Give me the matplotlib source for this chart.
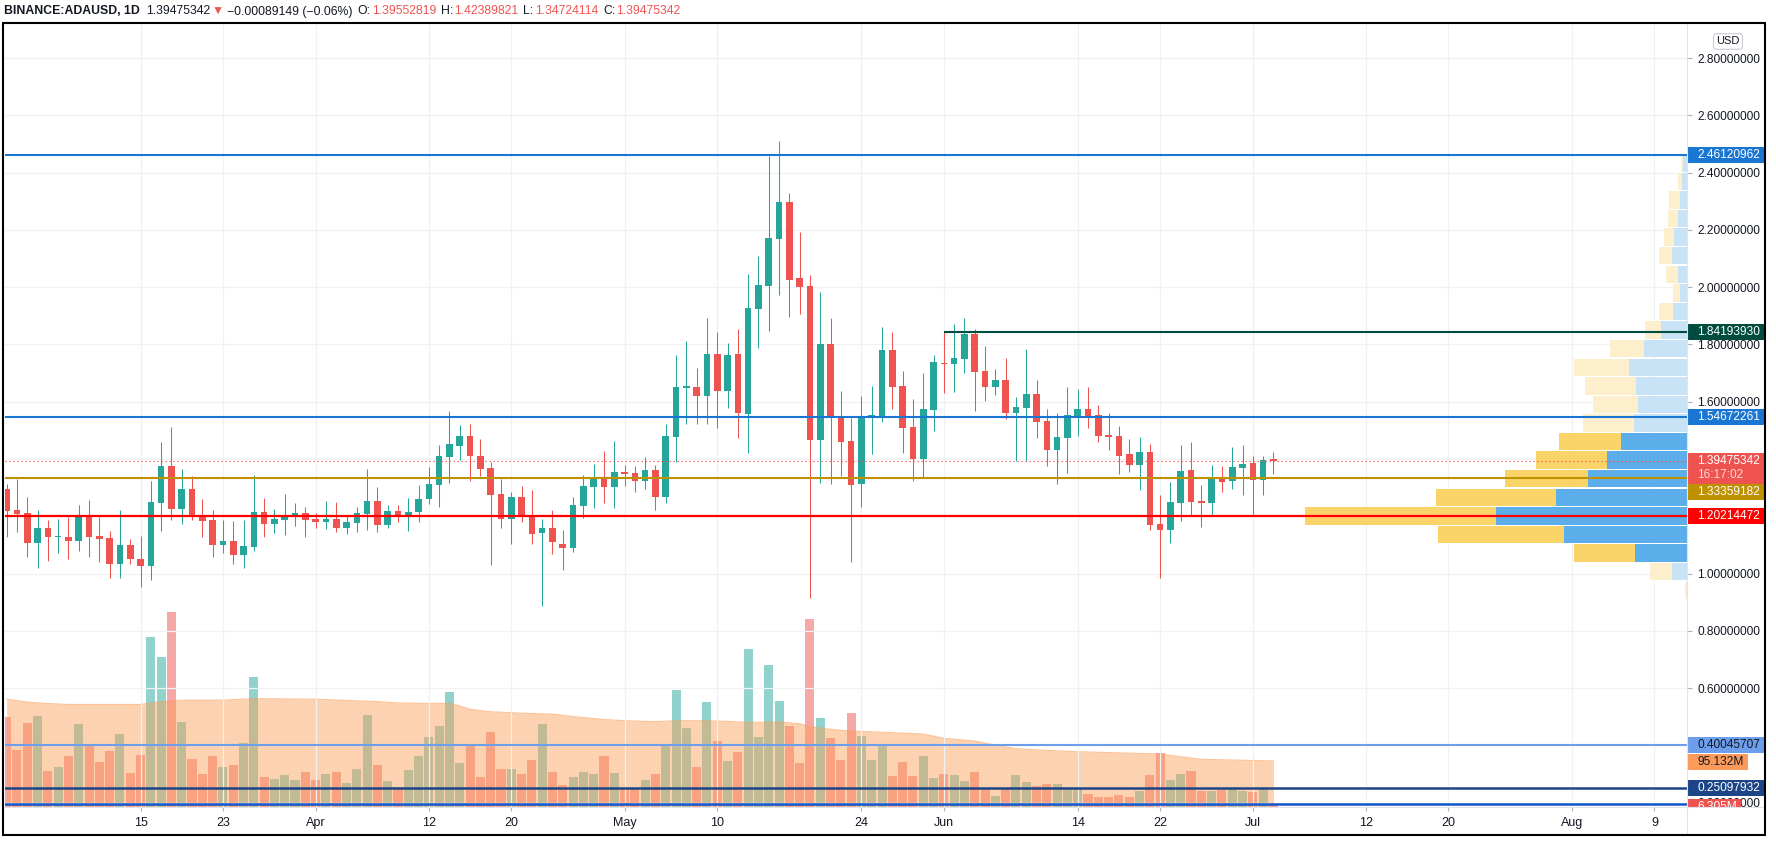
import numpy as np
import pandas as pd
import matplotlib
matplotlib.use('Agg')
import matplotlib.pyplot as plt
import matplotlib.dates as mdates
from matplotlib.patches import Rectangle
from matplotlib.lines import Line2D

plt.rcParams['font.family'] = ['Liberation Sans', 'DejaVu Sans']

# ---- daily candles, 2021-03-02 .. 2021-07-03 ----
dates = pd.date_range('2021-03-02', '2021-07-03', freq='D')

opens = [
    # Mar
    1.295, 1.222, 1.211, 1.108, 1.159, 1.126, 1.128, 1.115, 1.197, 1.131,
    1.124, 1.032, 1.100, 1.051, 1.028, 1.247, 1.375, 1.227, 1.295, 1.201,
    1.187, 1.098, 1.114, 1.066, 1.094, 1.215, 1.174, 1.188, 1.199, 1.211,
    # Apr
    1.191, 1.181, 1.191, 1.160, 1.178, 1.209, 1.253, 1.171, 1.218, 1.199,
    1.215, 1.260, 1.310, 1.408, 1.447, 1.480, 1.411, 1.369, 1.278, 1.192,
    1.267, 1.204, 1.142, 1.159, 1.103, 1.089, 1.236, 1.302, 1.331, 1.302,
    # May
    1.356, 1.352, 1.324, 1.363, 1.269, 1.478, 1.649, 1.652, 1.621, 1.767,
    1.639, 1.767, 1.557, 1.925, 2.006, 2.170, 2.299, 2.032, 2.004, 1.468,
    1.802, 1.543, 1.463, 1.314, 1.548, 1.548, 1.781, 1.655, 1.512, 1.401, 1.572,
    # Jun
    1.735, 1.732, 1.749, 1.838, 1.707, 1.653, 1.676, 1.562, 1.579, 1.627,
    1.533, 1.433, 1.475, 1.551, 1.575, 1.554, 1.484, 1.480, 1.418, 1.380,
    1.425, 1.173, 1.153, 1.248, 1.362, 1.255, 1.248, 1.331, 1.324, 1.370,
    # Jul
    1.386, 1.328, 1.39552819,
]
highs = [
    1.312, 1.331, 1.267, 1.222, 1.187, 1.191, 1.199, 1.239, 1.257, 1.199,
    1.148, 1.222, 1.121, 1.131, 1.323, 1.459, 1.511, 1.365, 1.340, 1.260,
    1.222, 1.187, 1.184, 1.187, 1.344, 1.264, 1.225, 1.278, 1.246, 1.232,
    1.211, 1.253, 1.250, 1.204, 1.232, 1.365, 1.302, 1.239, 1.239, 1.264,
    1.309, 1.372, 1.449, 1.568, 1.519, 1.522, 1.469, 1.391, 1.331, 1.285,
    1.306, 1.293, 1.192, 1.223, 1.152, 1.267, 1.344, 1.384, 1.428, 1.463,
    1.379, 1.376, 1.407, 1.380, 1.522, 1.763, 1.812, 1.718, 1.893, 1.844,
    1.805, 1.854, 2.046, 2.109, 2.458, 2.511, 2.329, 2.193, 2.043, 1.983,
    1.893, 1.638, 1.544, 1.620, 1.655, 1.861, 1.844, 1.707, 1.610, 1.700, 1.763,
    1.842, 1.872, 1.893, 1.854, 1.795, 1.714, 1.753, 1.617, 1.784, 1.676,
    1.575, 1.561, 1.652, 1.645, 1.652, 1.589, 1.561, 1.515, 1.470, 1.477,
    1.452, 1.274, 1.320, 1.449, 1.460, 1.309, 1.379, 1.376, 1.442, 1.449,
    1.411, 1.411, 1.42389821,
]
lows = [
    1.129, 1.144, 1.059, 1.018, 1.042, 1.073, 1.049, 1.077, 1.059, 1.039,
    0.986, 0.983, 1.032, 0.952, 0.976, 1.150, 1.188, 1.174, 1.188, 1.129,
    1.056, 1.070, 1.032, 1.018, 1.077, 1.129, 1.143, 1.133, 1.167, 1.126,
    1.160, 1.157, 1.146, 1.139, 1.146, 1.153, 1.146, 1.160, 1.180, 1.150,
    1.181, 1.244, 1.234, 1.317, 1.398, 1.324, 1.342, 1.031, 1.159, 1.103,
    1.181, 1.103, 0.888, 1.068, 1.012, 1.075, 1.195, 1.229, 1.246, 1.229,
    1.306, 1.285, 1.296, 1.223, 1.248, 1.391, 1.522, 1.522, 1.522, 1.508,
    1.579, 1.475, 1.422, 1.789, 1.848, 1.974, 1.897, 1.908, 0.916, 1.317,
    1.314, 1.342, 1.040, 1.232, 1.419, 1.529, 1.576, 1.422, 1.324, 1.338, 1.499,
    1.632, 1.634, 1.700, 1.569, 1.604, 1.624, 1.541, 1.394, 1.394, 1.475,
    1.377, 1.314, 1.352, 1.482, 1.510, 1.461, 1.433, 1.349, 1.356, 1.293,
    1.153, 0.986, 1.108, 1.185, 1.202, 1.164, 1.202, 1.286, 1.296, 1.276,
    1.202, 1.276, 1.34724114,
]
closes = [
    1.220, 1.209, 1.108, 1.159, 1.126, 1.128, 1.115, 1.197, 1.129, 1.122,
    1.032, 1.100, 1.052, 1.028, 1.250, 1.375, 1.227, 1.295, 1.199, 1.185,
    1.098, 1.114, 1.066, 1.097, 1.215, 1.174, 1.191, 1.201, 1.211, 1.188,
    1.181, 1.191, 1.160, 1.180, 1.211, 1.253, 1.171, 1.218, 1.199, 1.215,
    1.260, 1.312, 1.411, 1.452, 1.480, 1.412, 1.366, 1.276, 1.192, 1.267,
    1.199, 1.138, 1.159, 1.110, 1.089, 1.239, 1.306, 1.331, 1.302, 1.356,
    1.349, 1.324, 1.363, 1.269, 1.480, 1.652, 1.655, 1.621, 1.767, 1.639,
    1.763, 1.562, 1.927, 2.008, 2.172, 2.299, 2.026, 2.002, 1.468, 1.802,
    1.550, 1.461, 1.310, 1.548, 1.554, 1.781, 1.653, 1.510, 1.401, 1.575, 1.739,
    1.732, 1.753, 1.838, 1.705, 1.653, 1.676, 1.562, 1.582, 1.627, 1.530,
    1.433, 1.477, 1.554, 1.575, 1.551, 1.482, 1.478, 1.412, 1.380, 1.425,
    1.171, 1.153, 1.251, 1.358, 1.251, 1.248, 1.331, 1.321, 1.372, 1.383,
    1.328, 1.3956, 1.39475342,
]
# volume, millions
volumes = [
    186.0, 118.5, 173.6, 188.1, 74.4, 82.7, 105.4, 171.6, 126.8, 93.0,
    115.8, 150.9, 70.3, 107.5, 351.4, 310.1, 403.1, 175.7, 99.2, 68.2,
    105.4, 82.7, 86.8, 132.3, 268.7, 62.0, 57.9, 66.1, 55.8, 72.3,
    55.8, 68.2, 72.3, 49.6, 78.5, 190.2, 86.8, 53.7, 40.7, 76.5,
    105.4, 144.7, 167.4, 237.7, 90.9, 126.1, 62.0, 155.0, 78.5, 78.5,
    68.2, 97.1, 171.6, 72.3, 45.5, 62.0, 72.3, 68.2, 105.4, 70.3,
    38.6, 38.6, 55.8, 68.2, 126.1, 241.8, 163.3, 82.7, 217.1, 136.4,
    95.1, 113.7, 326.6, 144.7, 293.5, 219.1, 167.4, 90.9, 388.6, 184.0,
    142.6, 97.1, 194.3, 146.8, 97.1, 126.1, 64.1, 93.0, 64.1, 105.4, 59.9,
    68.2, 66.1, 53.7, 72.3, 38.6, 22.7, 38.6, 66.1, 51.7, 43.4,
    47.5, 47.5, 40.0, 40.0, 26.9, 20.7, 20.7, 24.8, 20.7, 33.1,
    66.1, 111.6, 55.8, 68.2, 74.4, 33.1, 33.1, 35.1, 39.3, 33.1,
    31.0, 39.3, 6.305,
]
# volume moving average (read at a few dates)
ma_dates = ['2021-03-02', '2021-03-04', '2021-03-06', '2021-03-08', '2021-03-15', '2021-03-17',
            '2021-03-19', '2021-03-23', '2021-03-26', '2021-04-01', '2021-04-07', '2021-04-09',
            '2021-04-14', '2021-04-15', '2021-04-16', '2021-04-18', '2021-04-21', '2021-04-24',
            '2021-04-26', '2021-04-29', '2021-05-01', '2021-05-03', '2021-05-04', '2021-05-06',
            '2021-05-09', '2021-05-11', '2021-05-13', '2021-05-16', '2021-05-18', '2021-05-19',
            '2021-05-21', '2021-05-23', '2021-05-27', '2021-05-30', '2021-06-01', '2021-06-04',
            '2021-06-06', '2021-06-08', '2021-06-11', '2021-06-14', '2021-06-18', '2021-06-22',
            '2021-06-24', '2021-06-26', '2021-06-29', '2021-07-03']
ma_vals = [223, 217, 214, 212, 212, 218, 221, 221, 224, 223, 218, 215,
           214, 209, 202, 197, 194, 192, 187, 181, 178.5, 177, 176.5, 178.5,
           178.5, 177, 175, 176, 172, 166, 160.6, 157, 153.7, 151, 142, 136.5,
           128, 120.6, 117, 114.4, 112, 109.6, 104, 98.6, 97.2, 95.132]

# visible range volume profile (24 rows, bottom first), relative units
vp_low, vp_high = 0.911, 2.469
vp_up = [0, 15, 52, 123, 191, 131, 99, 80, 66, 53, 49, 51, 58, 43, 26, 14, 7, 9, 15, 13, 9, 7, 5, 4]
vp_down = [2, 22, 61, 125, 190, 119, 83, 71, 62, 51, 45, 51, 55, 34, 16, 14, 7, 12, 13, 10, 10, 11, 4, 2]
value_area = range(2, 9)

# drawn levels
lvl_top = 2.46120962
lvl_res = 1.84193930
lvl_mid = 1.54672261
last_price = 1.39475342
lvl_poc = 1.33359182
lvl_sup = 1.20214472
lvl_a = 0.40045707
lvl_b = 0.25097932
lvl_c = 0.1955

tick_dates = ['2021-03-15', '2021-03-23', '2021-04-01', '2021-04-12', '2021-04-20', '2021-05-01',
              '2021-05-10', '2021-05-24', '2021-06-01', '2021-06-14', '2021-06-22', '2021-07-01',
              '2021-07-12', '2021-07-20', '2021-08-01', '2021-08-09']
tick_labels = ['15', '23', 'Apr', '12', '20', 'May', '10', '24', 'Jun', '14', '22', 'Jul',
               '12', '20', 'Aug', '9']

W, H = 1776, 847
UP, DOWN = '#26a69a', '#ef5350'
TXT = '#131722'
GRID = '#f0f1f3'
SEP = '#e0e3eb'
FS = 8.6

fig = plt.figure(figsize=(W / 100, H / 100), dpi=100)
L, R, T, B = 5, 1687, 23, 807
ax = fig.add_axes([L / W, 1 - B / H, (R - L) / W, (B - T) / H])
ax_v = ax.twinx()
ax.set_zorder(ax_v.get_zorder() + 1)
ax.patch.set_visible(False)

x = mdates.date2num(dates)
xl = mdates.date2num(pd.Timestamp('2021-03-02')) - 0.16
xr = mdates.date2num(pd.Timestamp('2021-08-12')) + 0.16
ax.set_xlim(xl, xr)
ax.set_ylim(0.1845, 2.9229)
ax_v.set_ylim(0, 1621)

o = np.array(opens); h = np.array(highs); lo = np.array(lows); c = np.array(closes)
col = np.where(c >= o, UP, DOWN)

# volume + MA area
ax_v.bar(x, volumes, width=0.88, color=col, alpha=0.5, linewidth=0, zorder=2)
ma_x = mdates.date2num(pd.to_datetime(ma_dates))
ax_v.fill_between(ma_x, ma_vals, 0, color='#fb9d55', alpha=0.46, linewidth=0, zorder=3)
ax_v.plot(ma_x, ma_vals, color='#fb9d55', lw=0.8, alpha=0.6, zorder=3)
ax_v.set_axis_off()

# candles
ax.vlines(x, lo, h, colors=col, lw=0.75, zorder=4)
ax.bar(x, np.maximum(np.abs(c - o), 0.004), bottom=np.minimum(o, c), width=0.64,
       color=col, linewidth=0, zorder=5)

# volume profile anchored on the right edge
n = len(vp_up)
step = (vp_high - vp_low) / n
rows = vp_low + step * np.arange(n)
up = np.array(vp_up, float); dn = np.array(vp_down, float)
k = 0.227 * (xr - xl) / (up + dn).max()
up_col = ['#5caeea' if i in value_area else '#c8e3f6' for i in range(n)]
dn_col = ['#fad468' if i in value_area else '#fdefcc' for i in range(n)]
ax.barh(rows, -up * k, left=xr, height=step - 0.004, align='edge', color=up_col, linewidth=0, zorder=2)
ax.barh(rows, -dn * k, left=xr - up * k, height=step - 0.004, align='edge', color=dn_col, linewidth=0, zorder=2)

# horizontal levels
ax.axhline(lvl_top, color='#1976d2', lw=1.5, zorder=6)
ax.hlines(lvl_res, mdates.date2num(pd.Timestamp('2021-06-01')), xr, color='#004d40', lw=1.5, zorder=6)
ax.axhline(lvl_mid, color='#1976d2', lw=1.5, zorder=6)
ax.axhline(last_price, color=DOWN, lw=0.8, ls=(0, (1.2, 2.4)), zorder=6)
ax.axhline(lvl_poc, color='#bf9000', lw=1.5, zorder=6)
ax.axhline(lvl_sup, color='#ff0000', lw=1.6, zorder=6)
ax.axhline(lvl_a, color='#6d9eeb', lw=1.5, zorder=6)
ax.axhline(lvl_b, color='#1c4587', lw=1.8, zorder=6)
ax.axhline(lvl_c, color='#1155cc', lw=1.8, zorder=6)

# axes styling
for s in ax.spines.values():
    s.set_visible(False)
ax.set_xticks(mdates.date2num(pd.to_datetime(tick_dates)))
ax.set_xticklabels(tick_labels)
yt = np.round(np.arange(0.2, 2.81, 0.2), 1)
hidden = {1.4, 1.2, 0.4}   # fully covered by the level tags
ax.set_yticks(yt)
ax.set_yticklabels(['' if v in hidden else f'{v:.8f}' for v in yt])
ax.yaxis.tick_right()
ax.tick_params(axis='x', length=3, width=0.8, color='#b2b5be', labelsize=9, labelcolor=TXT, pad=4)
ax.tick_params(axis='y', length=3.5, width=0.8, color='#b2b5be', labelsize=FS, labelcolor=TXT, pad=4)
ax.grid(True, color=GRID, lw=0.9)
ax.set_axisbelow(True)


def ytop(p):
    # pixel row (from top) of a price
    return H - ax.transData.transform((xl, p))[1]


def tag(yc, text, face, color='white', x1=1765, hh=16):
    fig.add_artist(Rectangle((R / W, 1 - (yc + hh / 2) / H), (x1 - R) / W, hh / H,
                             transform=fig.transFigure, fc=face, ec='none', zorder=8))
    fig.text(1697 / W, 1 - yc / H, text, color=color, fontsize=FS, ha='left', va='center',
             zorder=9)


tag(ytop(lvl_top), f'{lvl_top:.8f}', '#1976d2')
tag(ytop(lvl_res), f'{lvl_res:.8f}', '#004d40')
tag(ytop(lvl_mid), f'{lvl_mid:.8f}', '#1976d2')
yl = ytop(last_price)
fig.add_artist(Rectangle((R / W, 1 - 484 / H), (1765 - R) / W, 31 / H, transform=fig.transFigure,
                         fc=DOWN, ec='none', zorder=8))
fig.text(1697 / W, 1 - yl / H, f'{last_price:.8f}', color='white', fontsize=FS, va='center', zorder=9)
fig.text(1697 / W, 1 - (yl + 14) / H, '16:17:02', color='#ffd6d6', fontsize=FS, va='center', zorder=9)
tag(ytop(lvl_poc) + 13.5, f'{lvl_poc:.8f}', '#bf9000')
tag(ytop(lvl_sup), f'{lvl_sup:.8f}', '#ff0000')
tag(ytop(lvl_a), f'{lvl_a:.8f}', '#6d9eeb', color=TXT)
tag(ytop(lvl_a) + 17, f'{ma_vals[-1]:.3f}M', '#fd9a5a', color=TXT, x1=1748)
tag(ytop(lvl_b), f'{lvl_b:.8f}', '#1c4587')
tag(ytop(lvl_c) + 3, f'{volumes[-1]:.3f}M', DOWN, x1=1741)

# clip what runs below the price pane on the price scale
fig.add_artist(Rectangle((R / W, 1 - 834 / H), (1765 - R) / W, (834 - B - 1) / H,
                         transform=fig.transFigure, fc='white', ec='none', zorder=10))
# pane separators and outer frame
fig.add_artist(Line2D([R / W, R / W], [1 - 835 / H, 1 - 23 / H], color=SEP, lw=0.8, zorder=11))
fig.add_artist(Line2D([3 / W, 1765 / W], [1 - B / H, 1 - B / H], color=SEP, lw=0.8, zorder=11))
fig.add_artist(Rectangle((3 / W, 1 - 835 / H), 1762 / W, 812 / H, transform=fig.transFigure,
                         fill=False, ec='black', lw=1.5, zorder=12))

fig.text(1728 / W, 1 - 41.5 / H, 'USD', color=TXT, fontsize=8, ha='center', va='center',
         bbox=dict(boxstyle='round,pad=0.25', fc='white', ec='#c9ccd3', lw=0.8))

# header line, laid out left to right and fitted to the reference width
head = [('BINANCE:ADAUSD, 1D', TXT, 'bold', 6), ('1.39475342', TXT, 'normal', 2),
        ('▼', DOWN, 'normal', 3), ('−0.00089149 (−0.06%)', TXT, 'normal', 5),
        ('O:', TXT, 'normal', 1), (f'{opens[-1]:.8f}', DOWN, 'normal', 5),
        ('H:', TXT, 'normal', 1), (f'{highs[-1]:.8f}', DOWN, 'normal', 5),
        ('L:', TXT, 'normal', 1), (f'{lows[-1]:.8f}', DOWN, 'normal', 5),
        ('C:', TXT, 'normal', 1), (f'{closes[-1]:.8f}', DOWN, 'normal', 0)]
rend = fig.canvas.get_renderer()
htexts = [fig.text(0, 1 - 11.5 / H, s, color=hc, fontsize=10, fontweight=hw, ha='left', va='center')
          for s, hc, hw, _ in head]
gaps = sum(g for *_, g in head)
wsum = sum(t.get_window_extent(rend).width for t in htexts)
hfs = 10 * (679 - gaps) / wsum
cx = 4
for t, (_, _, _, g) in zip(htexts, head):
    t.set_fontsize(hfs)
    t.set_x(cx / W)
    cx += t.get_window_extent(rend).width + g

fig.savefig('out.png', dpi=100, facecolor='white')
